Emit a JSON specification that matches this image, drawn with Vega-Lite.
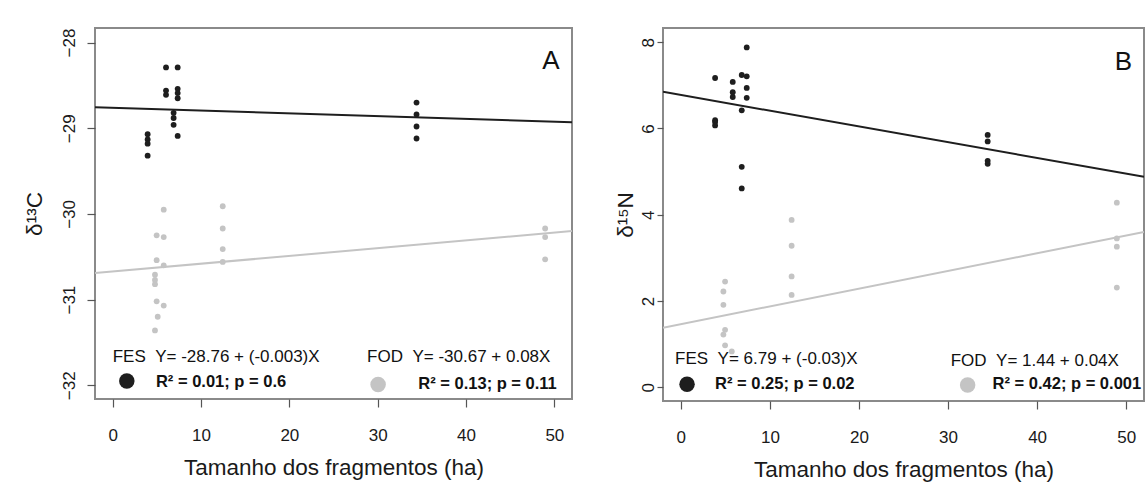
{
  "$schema": "https://vega.github.io/schema/vega-lite/v6.json",
  "background": "white",
  "padding": {"left": 22, "top": 27, "right": 0, "bottom": 0},
  "spacing": 40,
  "datasets": {
    "ptsA": [
      {"x": 3.96, "y": -29.07, "g": "FES"}, {"x": 3.96, "y": -29.13, "g": "FES"}, {"x": 3.96, "y": -29.18, "g": "FES"}, {"x": 3.96, "y": -29.32, "g": "FES"},
      {"x": 6.04, "y": -28.29, "g": "FES"}, {"x": 6.04, "y": -28.56, "g": "FES"}, {"x": 6.04, "y": -28.61, "g": "FES"},
      {"x": 7.36, "y": -28.29, "g": "FES"}, {"x": 7.36, "y": -28.54, "g": "FES"}, {"x": 7.36, "y": -28.59, "g": "FES"}, {"x": 7.36, "y": -28.65, "g": "FES"},
      {"x": 6.9, "y": -28.82, "g": "FES"}, {"x": 6.9, "y": -28.88, "g": "FES"}, {"x": 6.9, "y": -28.96, "g": "FES"}, {"x": 7.36, "y": -29.09, "g": "FES"},
      {"x": 34.4, "y": -28.7, "g": "FES"}, {"x": 34.4, "y": -28.84, "g": "FES"}, {"x": 34.4, "y": -28.98, "g": "FES"}, {"x": 34.4, "y": -29.12, "g": "FES"},
      {"x": 5.78, "y": -29.95, "g": "FOD"}, {"x": 4.98, "y": -30.25, "g": "FOD"}, {"x": 5.78, "y": -30.27, "g": "FOD"}, {"x": 4.98, "y": -30.54, "g": "FOD"},
      {"x": 5.78, "y": -30.6, "g": "FOD"}, {"x": 4.79, "y": -30.71, "g": "FOD"}, {"x": 4.79, "y": -30.77, "g": "FOD"}, {"x": 4.79, "y": -30.82, "g": "FOD"},
      {"x": 4.98, "y": -31.02, "g": "FOD"}, {"x": 5.78, "y": -31.07, "g": "FOD"}, {"x": 5.1, "y": -31.2, "g": "FOD"}, {"x": 4.79, "y": -31.36, "g": "FOD"},
      {"x": 12.46, "y": -29.91, "g": "FOD"}, {"x": 12.46, "y": -30.17, "g": "FOD"}, {"x": 12.46, "y": -30.41, "g": "FOD"}, {"x": 12.46, "y": -30.56, "g": "FOD"},
      {"x": 48.96, "y": -30.17, "g": "FOD"}, {"x": 48.96, "y": -30.27, "g": "FOD"}, {"x": 48.96, "y": -30.53, "g": "FOD"}
    ],
    "linesA": [
      {"x": -2, "y": -28.754, "g": "FES"}, {"x": 52, "y": -28.93, "g": "FES"},
      {"x": -2, "y": -30.69, "g": "FOD"}, {"x": 52, "y": -30.2, "g": "FOD"}
    ],
    "textA": [
      {"x": 0.0, "y": -31.67, "t": "FES\u00a0\u00a0Y= -28.76 + (-0.003)X", "w": "normal"},
      {"x": 4.9, "y": -31.96, "t": "R² = 0.01; p = 0.6", "w": "bold"},
      {"x": 28.8, "y": -31.67, "t": "FOD\u00a0\u00a0Y= -30.67 + 0.08X", "w": "normal"},
      {"x": 34.6, "y": -31.99, "t": "R² = 0.13; p = 0.11", "w": "bold"}
    ],
    "dotsA": [
      {"x": 1.6, "y": -31.95, "g": "FES"},
      {"x": 30.05, "y": -31.99, "g": "FOD"}
    ],
    "labA": [{"x": 49.6, "y": -28.22, "t": "A"}],
    "ptsB": [
      {"x": 3.85, "y": 7.17, "g": "FES"}, {"x": 3.85, "y": 6.19, "g": "FES"}, {"x": 3.85, "y": 6.15, "g": "FES"}, {"x": 3.85, "y": 6.07, "g": "FES"},
      {"x": 5.83, "y": 7.08, "g": "FES"}, {"x": 5.83, "y": 6.84, "g": "FES"}, {"x": 5.83, "y": 6.73, "g": "FES"},
      {"x": 6.84, "y": 7.24, "g": "FES"}, {"x": 7.4, "y": 7.88, "g": "FES"}, {"x": 7.4, "y": 7.21, "g": "FES"}, {"x": 7.4, "y": 6.94, "g": "FES"}, {"x": 7.4, "y": 6.71, "g": "FES"},
      {"x": 6.84, "y": 6.42, "g": "FES"}, {"x": 6.84, "y": 5.11, "g": "FES"}, {"x": 6.84, "y": 4.61, "g": "FES"},
      {"x": 34.45, "y": 5.85, "g": "FES"}, {"x": 34.45, "y": 5.7, "g": "FES"}, {"x": 34.45, "y": 5.25, "g": "FES"}, {"x": 34.45, "y": 5.18, "g": "FES"},
      {"x": 12.44, "y": 3.88, "g": "FOD"}, {"x": 12.44, "y": 3.28, "g": "FOD"}, {"x": 12.44, "y": 2.57, "g": "FOD"}, {"x": 12.44, "y": 2.14, "g": "FOD"},
      {"x": 4.97, "y": 2.45, "g": "FOD"}, {"x": 4.78, "y": 2.22, "g": "FOD"}, {"x": 4.78, "y": 1.91, "g": "FOD"}, {"x": 4.97, "y": 1.33, "g": "FOD"},
      {"x": 4.78, "y": 1.22, "g": "FOD"}, {"x": 4.97, "y": 0.97, "g": "FOD"}, {"x": 5.72, "y": 0.83, "g": "FOD"},
      {"x": 48.95, "y": 4.28, "g": "FOD"}, {"x": 48.95, "y": 3.45, "g": "FOD"}, {"x": 48.95, "y": 3.26, "g": "FOD"}, {"x": 48.95, "y": 2.31, "g": "FOD"}
    ],
    "linesB": [
      {"x": -2, "y": 6.85, "g": "FES"}, {"x": 52, "y": 4.88, "g": "FES"},
      {"x": -2, "y": 1.38, "g": "FOD"}, {"x": 52, "y": 3.6, "g": "FOD"}
    ],
    "textB": [
      {"x": -0.64, "y": 0.65, "t": "FES\u00a0\u00a0Y= 6.79 + (-0.03)X", "w": "normal"},
      {"x": 3.85, "y": 0.07, "t": "R² = 0.25; p = 0.02", "w": "bold"},
      {"x": 30.3, "y": 0.6, "t": "FOD\u00a0\u00a0Y= 1.44 + 0.04X", "w": "normal"},
      {"x": 35.0, "y": 0.07, "t": "R² = 0.42; p = 0.001", "w": "bold"}
    ],
    "dotsB": [
      {"x": 0.7, "y": 0.07, "g": "FES"},
      {"x": 32.2, "y": 0.05, "g": "FOD"}
    ],
    "labB": [{"x": 49.7, "y": 7.54, "t": "B"}]
  },
  "hconcat": [
    {
      "width": 477,
      "height": 371,
      "layer": [
        {
          "data": {"name": "linesA"},
          "mark": {"type": "line", "strokeWidth": 2, "clip": true},
          "encoding": {
            "x": {"field": "x", "type": "quantitative", "scale": {"domain": [-2, 52], "nice": false, "zero": false},
                  "axis": {"values": [0, 10, 20, 30, 40, 50], "title": "Tamanho dos fragmentos (ha)"}},
            "y": {"field": "y", "type": "quantitative", "scale": {"domain": [-32.16, -27.83], "nice": false, "zero": false},
                  "axis": {"values": [-32, -31, -30, -29, -28], "format": "d", "title": "δ¹³C", "labelAngle": -90, "labelAlign": "center", "labelBaseline": "bottom", "labelPadding": 9, "titlePadding": 14}},
            "detail": {"field": "g"},
            "color": {"field": "g", "type": "nominal", "scale": {"domain": ["FES", "FOD"], "range": ["#1e1e1e", "#c4c4c4"]}, "legend": null}
          }
        },
        {
          "data": {"name": "ptsA"},
          "mark": {"type": "circle", "size": 34, "opacity": 1},
          "encoding": {
            "x": {"field": "x", "type": "quantitative"},
            "y": {"field": "y", "type": "quantitative"},
            "color": {"field": "g", "type": "nominal", "scale": {"domain": ["FES", "FOD"], "range": ["#000000", "#b0b0b0"]}, "legend": null}
          }
        },
        {
          "data": {"name": "dotsA"},
          "mark": {"type": "circle", "size": 240, "opacity": 1},
          "encoding": {
            "x": {"field": "x", "type": "quantitative"},
            "y": {"field": "y", "type": "quantitative"},
            "color": {"field": "g", "type": "nominal", "scale": {"domain": ["FES", "FOD"], "range": ["#000000", "#c4c4c4"]}, "legend": null}
          }
        },
        {
          "data": {"name": "textA"},
          "transform": [{"filter": "datum.w == 'normal'"}],
          "mark": {"type": "text", "align": "left", "baseline": "middle", "fontSize": 17, "font": "Liberation Sans", "color": "#111"},
          "encoding": {
            "x": {"field": "x", "type": "quantitative"},
            "y": {"field": "y", "type": "quantitative"},
            "text": {"field": "t"}
          }
        },
        {
          "data": {"name": "textA"},
          "transform": [{"filter": "datum.w == 'bold'"}],
          "mark": {"type": "text", "align": "left", "baseline": "middle", "fontSize": 16.5, "fontWeight": "bold", "font": "Liberation Sans", "color": "#111"},
          "encoding": {
            "x": {"field": "x", "type": "quantitative"},
            "y": {"field": "y", "type": "quantitative"},
            "text": {"field": "t"}
          }
        },
        {
          "data": {"name": "labA"},
          "mark": {"type": "text", "align": "center", "baseline": "middle", "fontSize": 26, "font": "Liberation Sans", "color": "#111"},
          "encoding": {
            "x": {"field": "x", "type": "quantitative"},
            "y": {"field": "y", "type": "quantitative"},
            "text": {"field": "t"}
          }
        }
      ]
    },
    {
      "width": 481,
      "height": 373,
      "layer": [
        {
          "data": {"name": "linesB"},
          "mark": {"type": "line", "strokeWidth": 2, "clip": true},
          "encoding": {
            "x": {"field": "x", "type": "quantitative", "scale": {"domain": [-2, 52], "nice": false, "zero": false},
                  "axis": {"values": [0, 10, 20, 30, 40, 50], "title": "Tamanho dos fragmentos (ha)"}},
            "y": {"field": "y", "type": "quantitative", "scale": {"domain": [-0.32, 8.33], "nice": false, "zero": false},
                  "axis": {"values": [0, 2, 4, 6, 8], "format": "d", "title": "δ¹⁵N", "labelAngle": -90, "labelAlign": "center", "labelBaseline": "bottom", "tickSize": 6, "labelPadding": 0, "titlePadding": 2}},
            "detail": {"field": "g"},
            "color": {"field": "g", "type": "nominal", "scale": {"domain": ["FES", "FOD"], "range": ["#1e1e1e", "#c4c4c4"]}, "legend": null}
          }
        },
        {
          "data": {"name": "ptsB"},
          "mark": {"type": "circle", "size": 34, "opacity": 1},
          "encoding": {
            "x": {"field": "x", "type": "quantitative"},
            "y": {"field": "y", "type": "quantitative"},
            "color": {"field": "g", "type": "nominal", "scale": {"domain": ["FES", "FOD"], "range": ["#000000", "#b0b0b0"]}, "legend": null}
          }
        },
        {
          "data": {"name": "dotsB"},
          "mark": {"type": "circle", "size": 240, "opacity": 1},
          "encoding": {
            "x": {"field": "x", "type": "quantitative"},
            "y": {"field": "y", "type": "quantitative"},
            "color": {"field": "g", "type": "nominal", "scale": {"domain": ["FES", "FOD"], "range": ["#000000", "#c4c4c4"]}, "legend": null}
          }
        },
        {
          "data": {"name": "textB"},
          "transform": [{"filter": "datum.w == 'normal'"}],
          "mark": {"type": "text", "align": "left", "baseline": "middle", "fontSize": 17, "font": "Liberation Sans", "color": "#111"},
          "encoding": {
            "x": {"field": "x", "type": "quantitative"},
            "y": {"field": "y", "type": "quantitative"},
            "text": {"field": "t"}
          }
        },
        {
          "data": {"name": "textB"},
          "transform": [{"filter": "datum.w == 'bold'"}],
          "mark": {"type": "text", "align": "left", "baseline": "middle", "fontSize": 16.5, "fontWeight": "bold", "font": "Liberation Sans", "color": "#111"},
          "encoding": {
            "x": {"field": "x", "type": "quantitative"},
            "y": {"field": "y", "type": "quantitative"},
            "text": {"field": "t"}
          }
        },
        {
          "data": {"name": "labB"},
          "mark": {"type": "text", "align": "center", "baseline": "middle", "fontSize": 26, "font": "Liberation Sans", "color": "#111"},
          "encoding": {
            "x": {"field": "x", "type": "quantitative"},
            "y": {"field": "y", "type": "quantitative"},
            "text": {"field": "t"}
          }
        }
      ]
    }
  ],
  "config": {
    "view": {"stroke": "#8a8a8a", "strokeWidth": 2},
    "axis": {
      "domain": false,
      "grid": false,
      "ticks": true,
      "tickColor": "#555",
      "tickSize": 8,
      "tickWidth": 1.2,
      "labelFont": "Liberation Sans",
      "labelFontSize": 17,
      "labelColor": "#1a1a1a",
      "titleFont": "Liberation Sans",
      "titleFontSize": 22.5,
      "titleFontWeight": "normal",
      "titleColor": "#1a1a1a"
    },
    "axisX": {"labelPadding": 20, "titlePadding": 13},
    "axisY": {"titleAngle": -90}
  }
}
